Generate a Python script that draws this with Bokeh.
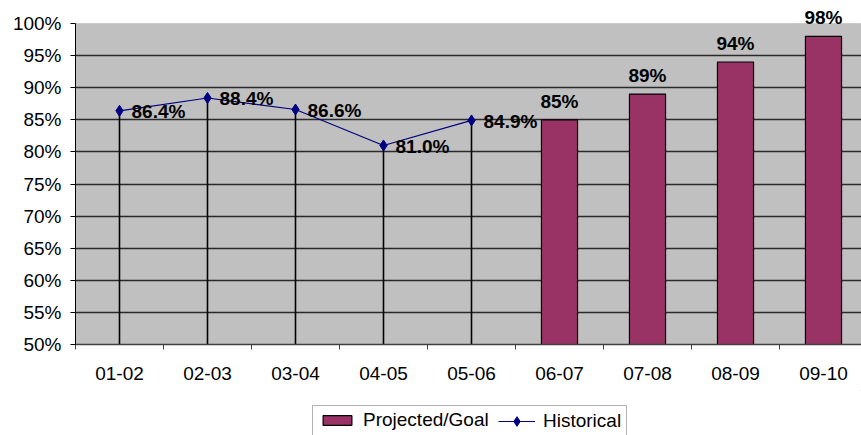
from bokeh.plotting import figure
from bokeh.layouts import column
from bokeh.models import (ColumnDataSource, LabelSet, Legend, LegendItem, Range1d,
                          FixedTicker, PrintfTickFormatter, BoxAnnotation)
from bokeh.core.properties import value
from bokeh.embed import file_html
from bokeh.resources import INLINE

categories = ["01-02", "02-03", "03-04", "04-05", "05-06", "06-07", "07-08", "08-09", "09-10"]
historical_cats = ["01-02", "02-03", "03-04", "04-05", "05-06"]
historical = [86.4, 88.4, 86.6, 81.0, 84.9]
projected_cats = ["06-07", "07-08", "08-09", "09-10"]
projected = [85, 89, 94, 98]
y_ticks = [50, 55, 60, 65, 70, 75, 80, 85, 90, 95, 100]
series_names = ["Projected/Goal", "Historical"]

FONT = "Liberation Sans"
FS = "19px"
BAR_COLOR = "#993366"
LINE_COLOR = "#000080"

pos = {c: i + 0.5 for i, c in enumerate(categories)}

hist_src = ColumnDataSource(dict(
    x=[pos[c] for c in historical_cats],
    y=historical,
    base=[y_ticks[0]] * len(historical),
    label=["%.1f%%" % v for v in historical],
))
proj_src = ColumnDataSource(dict(
    x=[pos[c] for c in projected_cats],
    y=projected,
    label=["%d%%" % v for v in projected],
))

# frame: x 75..861, y 0..344 ; 50%..100% spans 321 px (100% at y=23)
px_per_unit = 321 / float(y_ticks[-1] - y_ticks[0])
y_top = y_ticks[-1] + 23 / px_per_unit

p = figure(width=861, height=390, output_backend="svg", toolbar_location=None,
           min_border_left=75, min_border_right=0, min_border_top=0, min_border_bottom=46,
           x_range=Range1d(0, 786 / 88.0), y_range=Range1d(y_ticks[0], y_top))
p.background_fill_color = "white"
p.border_fill_color = "white"
p.outline_line_color = None

plot_area = BoxAnnotation(bottom=y_ticks[0], top=y_ticks[-1], fill_color="#C0C0C0",
                          fill_alpha=1, line_color="#A0A0A0", line_width=1, level="image")
p.add_layout(plot_area)

# axes
p.xaxis.ticker = FixedTicker(ticks=[pos[c] for c in categories],
                             minor_ticks=list(range(len(categories) + 1)))
p.xaxis.major_label_overrides = {pos[c]: c for c in categories}
p.xaxis.major_tick_out = 0
p.xaxis.major_tick_in = 0
p.xaxis.minor_tick_out = 5
p.xaxis.minor_tick_in = 0
p.xaxis.minor_tick_line_color = "#404040"
p.xaxis.axis_line_color = "#404040"
p.xaxis.axis_line_width = 1.5
p.xaxis.major_label_standoff = 17
p.xaxis.major_label_text_font = FONT
p.xaxis.major_label_text_font_size = FS
p.xaxis.major_label_text_color = "black"

p.yaxis.ticker = FixedTicker(ticks=y_ticks)
p.yaxis.bounds = (y_ticks[0], y_ticks[-1])
p.yaxis.formatter = PrintfTickFormatter(format="%d%%")
p.yaxis.major_tick_out = 5
p.yaxis.major_tick_in = 0
p.yaxis.minor_tick_out = 0
p.yaxis.minor_tick_in = 0
p.yaxis.axis_line_color = "black"
p.yaxis.major_tick_line_color = "black"
p.yaxis.major_label_standoff = 9
p.yaxis.major_label_text_font = FONT
p.yaxis.major_label_text_font_size = FS
p.yaxis.major_label_text_color = "black"

p.xgrid.visible = False
p.ygrid.ticker = FixedTicker(ticks=y_ticks[1:-1])
p.ygrid.grid_line_color = "#2a2a2a"
p.ygrid.grid_line_width = 1.5

# bars
p.vbar(x="x", top="y", bottom=y_ticks[0], width=0.41, source=proj_src,
       fill_color=BAR_COLOR, line_color="black", line_width=1.2)

# drop lines
p.segment(x0="x", y0="base", x1="x", y1="y", source=hist_src, line_color="black", line_width=1.6)
# historical line
p.line(x="x", y="y", source=hist_src, line_color=LINE_COLOR, line_width=1.2)
p.scatter(x="x", y="y", source=hist_src, marker="diamond", size=11,
          fill_color=LINE_COLOR, line_color=LINE_COLOR)

# labels
p.add_layout(LabelSet(x="x", y="y", text="label", source=hist_src, x_offset=12, y_offset=-1,
                      text_baseline="middle", text_align="left", text_font=value(FONT),
                      text_font_size=value(FS), text_font_style="bold", text_color="black"))
p.add_layout(LabelSet(x="x", y="y", text="label", source=proj_src, x_offset=0, y_offset=12,
                      text_baseline="alphabetic", text_align="center", text_font=value(FONT),
                      text_font_size=value(FS), text_font_style="bold", text_color="black"))

# ---- legend strip (its frame is aligned with the chart frame, starting at x=75) ----
lg = figure(width=861, height=45, output_backend="svg", toolbar_location=None,
            x_axis_type=None, y_axis_type=None, min_border=0,
            x_range=Range1d(0, 1), y_range=Range1d(0, 1))
lg.outline_line_color = None
lg.xgrid.visible = False
lg.ygrid.visible = False
lg.background_fill_color = "white"
lg.border_fill_color = "white"

# same series sources; they fall outside this strip's ranges, only their legend swatches show
leg_bar = lg.vbar(x="x", top="y", bottom=y_ticks[0], width=0.41, source=proj_src,
                  fill_color=BAR_COLOR, line_color="black", line_width=1.2)
leg_line = lg.line(x="x", y="y", source=hist_src, line_color=LINE_COLOR, line_width=1.2)
leg_mk = lg.scatter(x="x", y="y", source=hist_src, marker="diamond",
                    fill_color=LINE_COLOR, line_color=LINE_COLOR)

box = BoxAnnotation(left=237, right=551, bottom=-10, top=30,
                    left_units="screen", right_units="screen",
                    bottom_units="screen", top_units="screen",
                    fill_color="white", fill_alpha=1, line_color="black", line_width=1,
                    level="underlay")
lg.add_layout(box)

common = dict(orientation="horizontal", border_line_color=None, background_fill_alpha=0,
              padding=0, margin=0, label_standoff=8, label_height=20,
              label_text_font=FONT, label_text_font_size=FS, label_text_color="black")
legA = Legend(items=[LegendItem(label=series_names[0], renderers=[leg_bar])],
              location=(244, 4), glyph_width=36, glyph_height=12, **common)
legB = Legend(items=[LegendItem(label=series_names[1], renderers=[leg_line, leg_mk])],
              location=(423, 2), glyph_width=37, glyph_height=24, **common)
lg.add_layout(legA)
lg.add_layout(legB)

layout = column(p, lg, spacing=0)
open("out.html", "w").write(file_html(layout, INLINE))
